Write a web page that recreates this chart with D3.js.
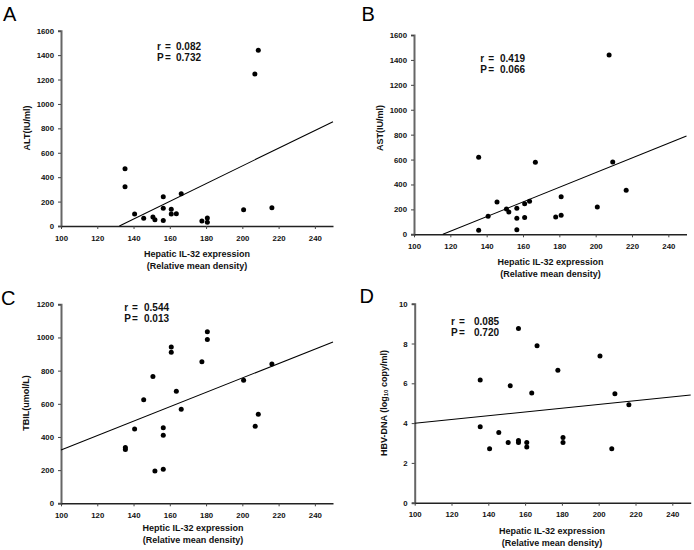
<!DOCTYPE html>
<html><head><meta charset="utf-8">
<script src="https://cdn.jsdelivr.net/npm/d3@7"></script>
<style>
html,body{margin:0;padding:0;background:#fff;}
svg{display:block;font-family:"Liberation Sans",Arial,sans-serif;}
</style></head>
<body>
<script>
// ---- data ----
const xTicks = [100,120,140,160,180,200,220,240];
const yTicksAB = [0,200,400,600,800,1000,1200,1400,1600];
const yTicksC = [0,200,400,600,800,1000,1200];
const yTicksD = [0,2,4,6,8,10];

const xA = [135.3,135.3,140.6,145.6,150.7,151.8,156.4,156.4,156.4,160.8,160.8,163.6,166.3,177.7,180.7,180.7,200.7,206.9,208.8,216.3];
const altValues = [470,322,98,63,74,52,240,145,46,137,98,101,265,41,66,30,134,1245,1439,150];
const fitA = [[132.2,0],[250,855]];

const xB = [135.6,135.6,140.8,145.7,150.9,152.2,156.6,156.6,156.6,160.9,160.9,163.6,166.8,178.0,181.0,181.0,200.9,207.4,209.4,216.8];
const astValues = [618,32,144,260,203,179,209,128,37,246,134,265,578,139,302,153,219,1439,581,353];
const fitB = [[115.9,0],[250,789]];

const xC = [135.5,135.5,140.6,145.6,150.7,151.8,156.4,156.4,156.4,160.8,160.8,163.6,166.3,177.7,180.7,180.7,200.7,207.1,208.8,216.3];
const tbilValues = [336,324,448,625,764,195,456,410,205,943,911,675,567,854,1035,987,742,464,537,840];
const fitC = [[100,322],[250,973]];

const xD = [135.6,135.6,140.7,145.7,150.8,151.9,156.4,156.4,156.4,160.9,160.9,163.6,166.5,177.8,180.6,180.6,200.7,207.1,208.8,216.4];
const hbvValues = [6.16,3.82,2.71,3.53,3.02,5.88,8.76,3.12,3.02,3.02,2.80,5.51,7.89,6.65,3.28,3.02,7.37,2.71,5.48,4.92];
const fitD = [[100,3.99],[250,5.41]];

const stats = {A:["0.082","0.732"], B:["0.419","0.066"], C:["0.544","0.013"], D:["0.085","0.720"]};

// ---- layout ----
const W = 694, H = 550;
const svg = d3.select("body").append("svg").attr("width",W).attr("height",H);

const panels = [
  {id:"A", xs:xA, ys:altValues, fit:fitA, yMax:1600, yTicks:yTicksAB,
   x0:61, x1:333, yb:226, yt:30.7, letter:[3,20.7],
   yTitle:"ALT(IU/ml)", yTitlePos:[27,128],
   xTitle:"Hepatic IL-32 expression", xTitleX:197, xTitleY:257,
   st:{x:157, eq:165, val:176, y1:50, y2:60.5}},
  {id:"B", xs:xB, ys:astValues, fit:fitB, yMax:1600, yTicks:yTicksAB,
   x0:414, x1:686.5, yb:234.3, yt:35, letter:[361.5,21.3],
   yTitle:"AST(IU/ml)", yTitlePos:[380,128],
   xTitle:"Hepatic IL-32 expression", xTitleX:550.5, xTitleY:265,
   st:{x:480.3, eq:488.3, val:500, y1:62, y2:73}},
  {id:"C", xs:xC, ys:tbilValues, fit:fitC, yMax:1200, yTicks:yTicksC,
   x0:61, x1:333, yb:503.3, yt:304.3, letter:[1,305],
   yTitle:"TBIL(umol/L)", yTitlePos:[26,403],
   xTitle:"Heptic IL-32 expression", xTitleX:193, xTitleY:531,
   st:{x:124.3, eq:132, val:144, y1:310.5, y2:322}},
  {id:"D", xs:xD, ys:hbvValues, fit:fitD, yMax:10, yTicks:yTicksD,
   x0:414.7, x1:690.7, yb:502.7, yt:303.7, letter:[359.5,303.3],
   yTitle:null, yTitlePos:[384,403],
   xTitle:"Hepatic IL-32 expression", xTitleX:552, xTitleY:534,
   st:{x:451, eq:459, val:474, y1:324.5, y2:335.5}}
];

panels.forEach(p => {
  const g = svg.append("g");
  const x = d3.scaleLinear().domain([100,250]).range([p.x0,p.x1]);
  const y = d3.scaleLinear().domain([0,p.yMax]).range([p.yb,p.yt]);

  // panel letter
  g.append("text").attr("x",p.letter[0]).attr("y",p.letter[1])
    .attr("font-size",20).attr("fill","#000").text(p.id);

  // y axis
  const ya = g.append("g").attr("transform",`translate(${p.x0},0)`)
    .call(d3.axisLeft(y).tickValues(p.yTicks).tickSize(3).tickPadding(4).tickFormat(d3.format("d")));
  ya.select(".domain").attr("stroke","#666").attr("stroke-width",2);
  ya.selectAll(".tick line").attr("stroke","#444");
  ya.selectAll(".tick text").attr("font-size",7.8).attr("font-weight","bold")
    .attr("font-family","'Liberation Sans',Arial,sans-serif").attr("fill","#111");

  // x axis
  const xa = g.append("g").attr("transform",`translate(0,${p.yb})`)
    .call(d3.axisBottom(x).tickValues(xTicks).tickSize(3).tickPadding(6).tickSizeOuter(0));
  xa.select(".domain").attr("stroke","#222").attr("stroke-width",1.5);
  xa.selectAll(".tick line").attr("stroke","#444");
  xa.selectAll(".tick text").attr("font-size",7.8).attr("font-weight","bold")
    .attr("font-family","'Liberation Sans',Arial,sans-serif").attr("fill","#111");

  // regression line
  g.append("line")
    .attr("x1",x(p.fit[0][0])).attr("y1",y(p.fit[0][1]))
    .attr("x2",x(p.fit[1][0])).attr("y2",y(p.fit[1][1]))
    .attr("stroke","#000").attr("stroke-width",1.1);

  // points
  g.selectAll("circle.pt").data(p.xs.map((v,i)=>[v,p.ys[i]])).enter()
    .append("circle").attr("class","pt")
    .attr("cx",d=>x(d[0])).attr("cy",d=>y(d[1])).attr("r",2.5).attr("fill","#000");

  // stats text
  const s = stats[p.id];
  const st = g.append("g").attr("font-size",10).attr("font-weight","bold").attr("fill","#111");
  st.append("text").attr("x",p.st.x).attr("y",p.st.y1).text("r");
  st.append("text").attr("x",p.st.eq).attr("y",p.st.y1).text("=");
  st.append("text").attr("x",p.st.val).attr("y",p.st.y1).text(s[0]);
  st.append("text").attr("x",p.st.x).attr("y",p.st.y2).text("P");
  st.append("text").attr("x",p.st.eq).attr("y",p.st.y2).text("=");
  st.append("text").attr("x",p.st.val).attr("y",p.st.y2).text(s[1]);

  // y title
  const yt = g.append("text")
    .attr("transform",`translate(${p.yTitlePos[0]},${p.yTitlePos[1]}) rotate(-90)`)
    .attr("text-anchor","middle").attr("dominant-baseline","central")
    .attr("font-size",9).attr("font-weight","bold").attr("fill","#111");
  if (p.yTitle) {
    yt.text(p.yTitle);
  } else {
    yt.append("tspan").text("HBV-DNA  (log");
    yt.append("tspan").attr("font-size",6).attr("dy",2).text("10");
    yt.append("tspan").attr("dy",-2).text(" copy/ml)");
  }

  // x title
  const xt = g.append("g").attr("font-size",9).attr("font-weight","bold").attr("fill","#111")
    .attr("text-anchor","middle");
  xt.append("text").attr("x",p.xTitleX).attr("y",p.xTitleY).text(p.xTitle);
  xt.append("text").attr("x",p.xTitleX).attr("y",p.xTitleY+12).text("(Relative mean density)");
});
</script>
</body></html>
